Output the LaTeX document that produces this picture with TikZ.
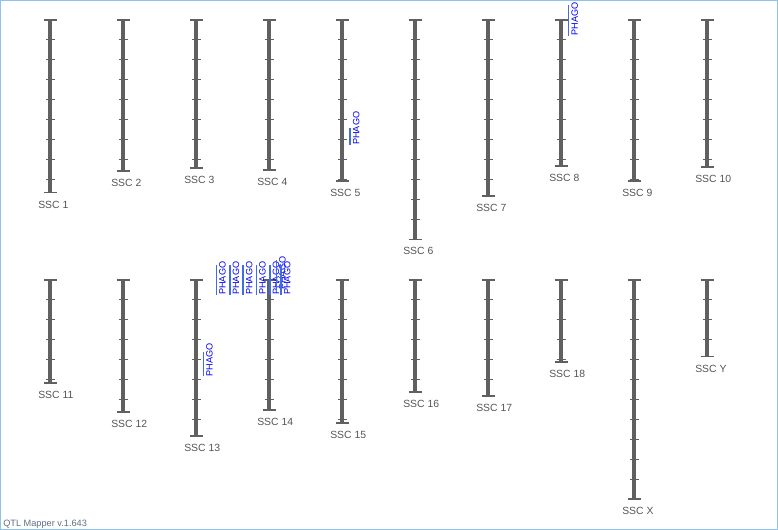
\documentclass[tikz,border=0pt]{standalone}
\usepackage{fontspec}
\setmainfont{Liberation Sans}
\usepackage{xcolor}
\usetikzlibrary{positioning}

\definecolor{chromgray}{HTML}{606060}
\definecolor{labelgray}{HTML}{555555}
\definecolor{qtlblue}{HTML}{3F6FDF}
\definecolor{qtltext}{HTML}{0000F5}
\definecolor{frameblue}{HTML}{8EC4EC}
\definecolor{versiongray}{HTML}{5C7186}

\begin{document}
\begin{tikzpicture}[
    x=0.75pt, y=-0.75pt,
    chrom/.style={draw=chromgray, line width=3pt},
    chrcap/.style={draw=chromgray, line width=1.1pt},
    chrtick/.style={draw=chromgray, line width=0.75pt},
    chrlabel/.style={anchor=north west, inner sep=0pt, text=labelgray, font=\fontsize{7.8}{9}\selectfont},
    qtl/.style={draw=qtlblue, line width=1.3pt},
    qtllabel/.style={rotate=90, anchor=north west, inner sep=0pt, text=qtltext, font=\fontsize{6.85}{8}\selectfont}
]
\useasboundingbox (0,0) rectangle (778,530);
\draw[frameblue, line width=0.75pt] (0.5,0.5) rectangle (777.5,529.5);

% chromosomes: name / x / top / bottom
\foreach \nm/\x/\ya/\yb in {1/50/20/192.7, 2/123/20/171, 3/196/20/168, 4/269/20/170, 5/342/20/181,
    6/415/20/239.3, 7/488/20/196, 8/561/20/166, 9/634/20/181, 10/707/20/167,
    11/50/280/383, 12/123/280/412, 13/196/280/436, 14/269/280/410, 15/342/280/423,
    16/415/280/392, 17/488/280/396, 18/561/280/362, X/634/280/499, Y/707/280/356.7} {
  \draw[chrom] (\x,\ya) -- (\x,\yb);
  \pgfmathtruncatemacro\nt{(\yb-\ya-1)/20}
  \foreach \k in {1,...,\nt}
    \draw[chrtick] (\x-4.3,\ya+20*\k) -- (\x+5.3,\ya+20*\k);
  \draw[chrcap] (\x-6.5,\ya) -- (\x+6.8,\ya);
  \draw[chrcap] (\x-6.5,\yb) -- (\x+6.8,\yb);
  \node[chrlabel] (ssc\nm) at (\x-12,\yb+8) {SSC \nm};
}

% QTL intervals: name / x / top / bottom
\foreach \nm/\x/\ya/\yb in {q5/350.2/128.3/145, q8/568.6/5/35.7, q13/203.4/351.7/376.5,
    q14a/216.6/265/295, q14b/230/265/295, q14c/243.3/265/295, q14d/256.6/265/295,
    q14e/270/265/295, q14f/276.6/260/290, q14g/281.2/265/295} {
  \draw[qtl] (\x,\ya) -- (\x,\yb);
  \node[qtllabel] (\nm) at (\x+2.5,\yb) {PHAGO};
}

\node[anchor=base west, inner sep=0pt, text=versiongray, font=\fontsize{6.9}{8}\selectfont] (version) at (3,526.5) {QTL Mapper v.1.643};
\end{tikzpicture}
\end{document}
